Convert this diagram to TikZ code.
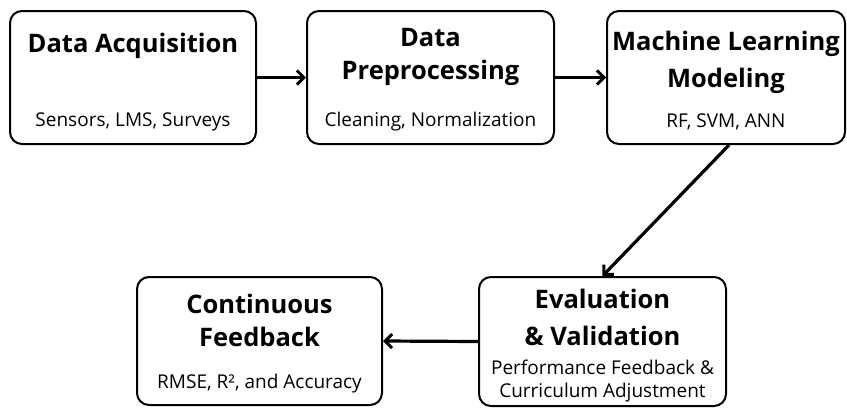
\documentclass[tikz,border=0pt]{standalone}
\usepackage{fontspec}
\setmainfont{Open Sans}
\usetikzlibrary{arrows.meta}
\tikzset{
  box/.style={draw=black, line width=2pt, rounded corners=12pt, fill=white, inner sep=0pt},
  ttl/.style={font=\fontsize{25.5}{30}\selectfont\bfseries, inner sep=0pt, align=center},
  sub/.style={font=\fontsize{19}{23}\selectfont, inner sep=0pt, align=center},
  arr/.style={line width=3.2pt, -{Straight Barb[length=7pt,width=14pt,line width=3pt]}}
}
\begin{document}
\begin{tikzpicture}[x=1pt,y=-1pt]
\useasboundingbox (0,0) rectangle (847,408);
\node[box, minimum width=246pt, minimum height=133pt] (b1) at (133,77.5) {};
\node[box, minimum width=247pt, minimum height=133pt] (b2) at (430.5,77.5) {};
\node[box, minimum width=238pt, minimum height=133pt] (b3) at (726,77.5) {};
\node[box, minimum width=245pt, minimum height=128pt] (b4) at (259.5,341) {};
\node[box, minimum width=247pt, minimum height=129pt] (b5) at (602.5,341.5) {};

\node[ttl] (t1) at (133,46) {Data Acquisition};
\node[sub] (s1) at (133,122) {Sensors, LMS, Surveys};

\node[ttl] (t2a) at (430.5,38) {Data};
\node[ttl] (t2b) at (430.5,73) {Preprocessing};
\node[sub] (s2) at (430.5,122) {Cleaning, Normalization};

\node[ttl] (t3a) at (726,44) {Machine Learning};
\node[ttl] (t3b) at (726,81) {Modeling};
\node[sub] (s3) at (726,122) {RF, SVM, ANN};

\node[ttl] (t4a) at (259.5,304) {Continuous};
\node[ttl] (t4b) at (259.5,337) {Feedback};
\node[sub] (s4) at (259.5,384) {RMSE, R², and Accuracy};

\node[ttl] (t5a) at (602.5,299) {Evaluation};
\node[ttl] (t5b) at (602.5,336) {\& Validation};
\node[sub] (s5a) at (602.5,367) {Performance Feedback \&};
\node[sub] (s5b) at (602.5,393) {Curriculum Adjustment};

\draw[arr] (b1.east) -- (b2.west);
\draw[arr] (b2.east) -- (b3.west);
\draw[arr] (b3.south) ++(3,0) coordinate (c3) (c3) -- (b5.north);
\draw[arr] (b5.west) -- (b4.east);
\end{tikzpicture}
\end{document}
